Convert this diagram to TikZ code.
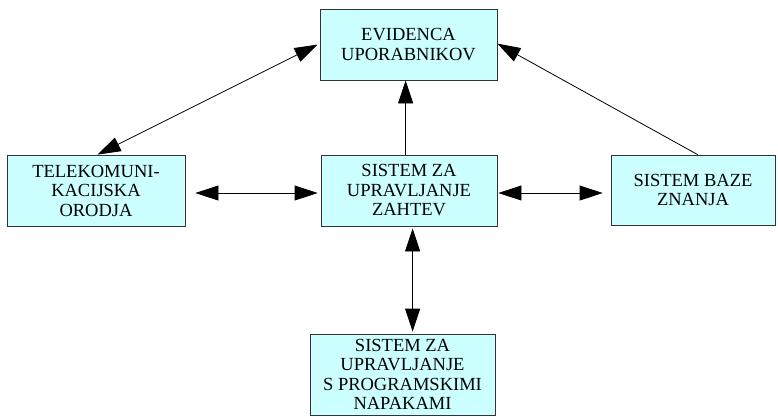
\documentclass[tikz,border=0pt]{standalone}
\usepackage{fontspec}
\setmainfont{Liberation Serif}
\usetikzlibrary{arrows.meta,calc}
\definecolor{boxfill}{HTML}{CCFFFF}
\definecolor{boxline}{HTML}{333333}
\begin{document}
\begin{tikzpicture}[x=1pt,y=-1pt,
  block/.style={draw=boxline, line width=0.8pt, fill=boxfill, rectangle,
    inner sep=0pt, align=center, font=\fontsize{18.5}{19.5}\selectfont},
  link/.style={line width=0.8pt, draw=black},
  tip/.style={-{Triangle[length=23pt,width=15pt]}},
  both/.style={{Triangle[length=23pt,width=15pt]}-{Triangle[length=23pt,width=15pt]}}]
\useasboundingbox (0,0) rectangle (778,416);

% system boxes
\node[block, minimum width=177pt, minimum height=71pt] (ev) at (408.5,44.5)
  {EVIDENCA\\UPORABNIKOV};
\node[block, minimum width=178pt, minimum height=71pt] (tel) at (96,190.5)
  {TELEKOMUNI-\\KACIJSKA\\ORODJA};
\node[block, minimum width=176pt, minimum height=71pt] (mid) at (409,190.5)
  {SISTEM ZA\\UPRAVLJANJE\\ZAHTEV};
\node[block, minimum width=164pt, minimum height=70pt] (baz) at (693,190)
  {SISTEM BAZE\\ZNANJA};
\node[block, minimum width=185pt, minimum height=81pt] (nap) at (402.5,374.5)
  {SISTEM ZA\\UPRAVLJANJE\\S PROGRAMSKIMI\\NAPAKAMI};

% connectors
\draw[link,both] ($(tel.north west)+(91,0)$) -- ($(ev.north west)+(-2,36)$);
\draw[link,tip] ($(mid.north west)+(85,0)$) -- ($(ev.south west)+(86,0)$);
\draw[link,tip] ($(baz.north west)+(87,0)$) -- ($(ev.north east)+(0,35)$);
\draw[link,both] ($(tel.east)+(10,2.5)$) -- ($(mid.west)+(-3,2.5)$);
\draw[link,both] ($(mid.east)+(1,2.5)$) -- ($(baz.west)+(-8,3)$);
\draw[link,both] ($(mid.south west)+(92,2)$) -- ($(nap.north west)+(103,-2)$);
\end{tikzpicture}
\end{document}
